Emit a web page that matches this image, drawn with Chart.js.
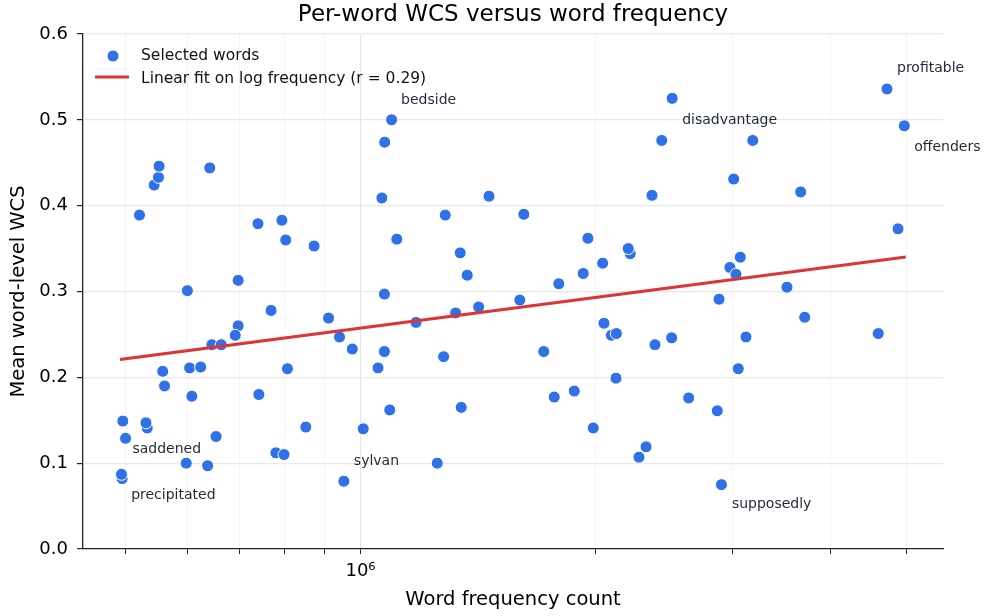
<!DOCTYPE html>
<html>
<head>
<meta charset="utf-8">
<script src="https://cdn.jsdelivr.net/npm/chart.js@4.4.1/dist/chart.umd.min.js"></script>
<style>
  html, body { margin: 0; padding: 0; background: #fff; }
  canvas { display: block; }
</style>
</head>
<body>
<canvas id="grafica" width="984" height="616"></canvas>
<script>
// DATOS
const freq = [
  496000, 500000, 533000, 531000, 521000, 544000, 551000, 552000, 641000, 600000,
  697000, 739000, 793000, 802000, 872000, 768000, 697000, 691000, 645000, 663000,
  558000, 604000, 624000, 806000, 561000, 608000, 741000, 851000, 653000, 779000,
  798000, 598000, 637000, 495000, 494000,
  1096000, 1074000, 1065000, 1461000, 1284000, 1619000, 1113000, 1342000, 1370000, 1073000,
  910000, 940000, 976000, 1073000, 1053000, 1178000, 1324000, 1417000, 1600000, 1278000,
  1008000, 1090000, 1346000, 1254000, 952000,
  2508000, 2432000, 3181000, 3007000, 2363000, 1956000, 2216000, 2203000, 2043000, 1929000,
  1795000, 2974000, 3066000, 3027000, 2880000, 2051000, 2096000, 2127000, 2384000, 2504000,
  3118000, 1717000, 2125000, 3048000, 1771000, 1879000, 2633000, 2865000, 1987000, 2322000,
  2274000, 2900000,
  4727000, 4974000, 3664000, 4883000, 3519000, 3708000, 4606000
];
const wcs = [
  0.149, 0.129, 0.141, 0.147, 0.389, 0.424, 0.433, 0.446, 0.444, 0.301,
  0.313, 0.379, 0.383, 0.360, 0.353, 0.278, 0.260, 0.249, 0.238, 0.238,
  0.207, 0.211, 0.212, 0.210, 0.190, 0.178, 0.180, 0.142, 0.131, 0.112,
  0.110, 0.100, 0.097, 0.082, 0.087,
  0.500, 0.474, 0.409, 0.411, 0.389, 0.390, 0.361, 0.345, 0.319, 0.297,
  0.269, 0.247, 0.233, 0.230, 0.211, 0.264, 0.275, 0.282, 0.290, 0.224,
  0.140, 0.162, 0.165, 0.100, 0.079,
  0.525, 0.476, 0.476, 0.431, 0.412, 0.362, 0.344, 0.350, 0.333, 0.321,
  0.309, 0.328, 0.340, 0.320, 0.291, 0.263, 0.249, 0.251, 0.238, 0.246,
  0.247, 0.230, 0.199, 0.210, 0.177, 0.184, 0.176, 0.161, 0.141, 0.119,
  0.107, 0.075,
  0.536, 0.493, 0.416, 0.373, 0.305, 0.270, 0.251
];

// palabras anotadas (índice en freq / wcs)
const annWords = ['profitable', 'disadvantage', 'bedside', 'offenders', 'supposedly', 'sylvan', 'saddened', 'precipitated'];
const annIndex = [92, 60, 35, 93, 91, 59, 34, 33];

// recta de ajuste
const fitFreq = [494000, 4974000];
const fitWcs = [0.221, 0.340];
const fitR = 0.29;

// ticks
const xTicks = [5e5, 6e5, 7e5, 8e5, 9e5, 1e6, 2e6, 3e6, 4e6, 5e6];
const yTicks = [0, 0.1, 0.2, 0.3, 0.4, 0.5, 0.6];

// estilo
const AZUL = '#3171e8';
const ROJO = '#dc3535';
const TEXTO = '#000000';
// desplazamiento de cada etiqueta en px [dx, dy a la línea base]
const annOffsets = [[10, -17], [10, 25.5], [9.5, -15.5], [10, 25], [10.5, 23.5], [10, -16], [11, -21], [9, 20]];

Chart.defaults.font.family = '"DejaVu Sans", sans-serif';

// Plugin: etiquetas de palabras + leyenda dentro del área
const etiquetas = {
    id: 'etiquetas',
    afterDatasetsDraw(chart) {
        const { ctx, chartArea: a, scales: { x, y } } = chart;
        ctx.save();

        ctx.font = '14px "DejaVu Sans"';
        ctx.fillStyle = '#1f2937';
        ctx.textBaseline = 'alphabetic';
        ctx.textAlign = 'left';
        annWords.forEach((w, i) => {
            const k = annIndex[i];
            const [dx, dy] = annOffsets[i];
            ctx.fillText(w, x.getPixelForValue(freq[k]) + dx, y.getPixelForValue(wcs[k]) + dy);
        });

        // leyenda
        const ds = chart.data.datasets;
        const scatter = ds.find(d => d.type === 'scatter');
        const linea = ds.find(d => d.type === 'line');
        ctx.beginPath();
        ctx.arc(a.left + 30, a.top + 22, 6, 0, Math.PI * 2);
        ctx.fillStyle = AZUL;
        ctx.fill();
        ctx.lineWidth = 1;
        ctx.strokeStyle = '#fff';
        ctx.stroke();

        ctx.beginPath();
        ctx.moveTo(a.left + 12, a.top + 43);
        ctx.lineTo(a.left + 46, a.top + 43);
        ctx.lineWidth = 3;
        ctx.strokeStyle = ROJO;
        ctx.stroke();

        ctx.font = '15.5px "DejaVu Sans"';
        ctx.fillStyle = '#111';
        ctx.fillText(scatter.label, a.left + 58, a.top + 26);
        ctx.fillText(linea.label, a.left + 58, a.top + 48.5);

        ctx.restore();
    }
};

const ctx = document.getElementById('grafica').getContext('2d');
new Chart(ctx, {
    type: 'scatter',
    data: {
        datasets: [
            {
                type: 'line',
                label: 'Linear fit on log frequency (r = ' + fitR.toFixed(2) + ')',
                data: fitFreq.map((f, i) => ({ x: f, y: fitWcs[i] })),
                borderColor: ROJO,
                borderWidth: 3,
                borderCapStyle: 'square',
                pointRadius: 0,
                fill: false,
                order: 0
            },
            {
                type: 'scatter',
                label: 'Selected words',
                data: freq.map((f, i) => ({ x: f, y: wcs[i] })),
                backgroundColor: AZUL,
                borderColor: '#ffffff',
                borderWidth: 1,
                pointRadius: 6,
                order: 1
            }
        ]
    },
    options: {
        responsive: false,
        devicePixelRatio: 1,
        animation: false,
        layout: { padding: { left: 0, right: 41, top: 0, bottom: 0 } },
        plugins: {
            legend: { display: false },
            tooltip: { enabled: false },
            title: {
                display: true,
                text: 'Per-word WCS versus word frequency',
                fullSize: false,
                color: TEXTO,
                font: { size: 23, weight: 'normal' },
                padding: { top: 1, bottom: 5.4 }
            }
        },
        scales: {
            x: {
                type: 'logarithmic',
                min: 441000,
                max: 5576000,
                afterBuildTicks: s => { s.ticks = xTicks.map(v => ({ value: v })); },
                afterFit: s => { s.height = 67; },
                ticks: {
                    autoSkip: false,
                    maxRotation: 0,
                    color: TEXTO,
                    font: { size: 18 },
                    padding: 7,
                    callback: v => v === 1e6 ? '10⁶' : ''
                },
                grid: {
                    color: c => c.tick && c.tick.value === 1e6 ? '#e4e4e4' : '#f3f3f3',
                    lineWidth: 1,
                    tickLength: 5,
                    tickColor: '#222'
                },
                border: { color: '#222', width: 1.3 },
                title: {
                    display: true,
                    text: 'Word frequency count',
                    color: TEXTO,
                    font: { size: 19.5 },
                    padding: { top: 0, bottom: 4 }
                }
            },
            y: {
                min: 0,
                max: 0.6,
                afterBuildTicks: s => { s.ticks = yTicks.map(v => ({ value: v })); },
                afterFit: s => { s.width = 83; },
                ticks: {
                    color: TEXTO,
                    font: { size: 18 },
                    padding: 9,
                    callback: v => Number(v).toFixed(1)
                },
                grid: {
                    color: c => c.tick && c.tick.value === 0 ? 'rgba(0,0,0,0)' : '#e8e8e8',
                    lineWidth: 1.2,
                    tickLength: 6,
                    tickColor: '#222'
                },
                border: { color: '#222', width: 1.3 },
                title: {
                    display: true,
                    text: 'Mean word-level WCS',
                    color: TEXTO,
                    font: { size: 19.5 },
                    padding: { top: 7, bottom: 0 }
                }
            }
        }
    },
    plugins: [etiquetas]
});
</script>
</body>
</html>
